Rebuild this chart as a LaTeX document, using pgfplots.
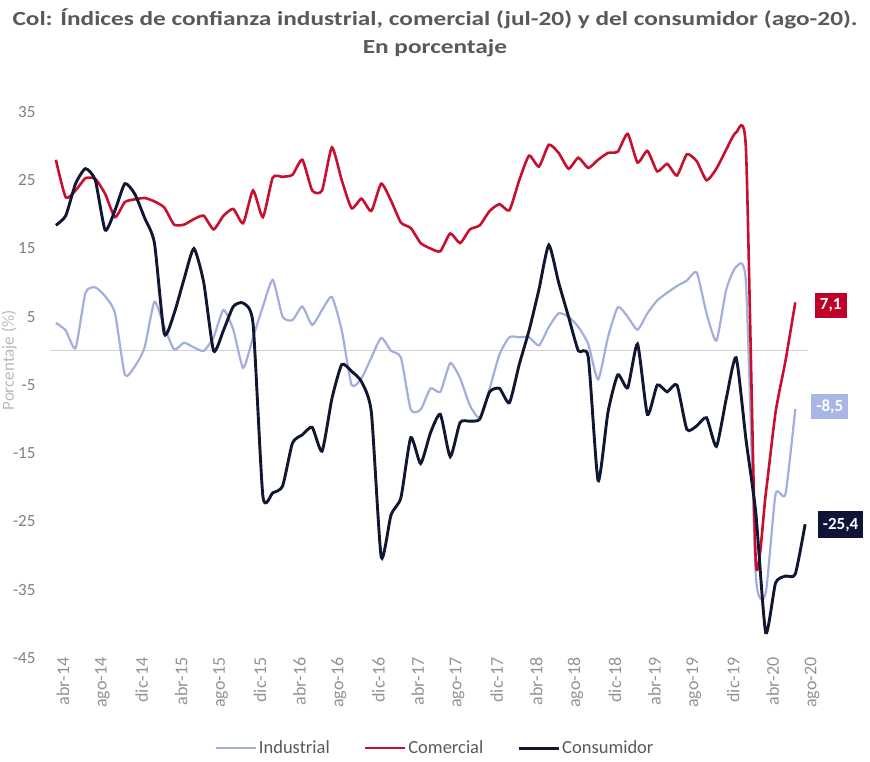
\documentclass[border=0pt]{standalone}
\usepackage{fontspec}
\setmainfont{Carlito}
\usepackage{pgfplots}
\usepackage{pgfplotstable}
\pgfplotsset{compat=1.18}
\definecolor{ind}{HTML}{A3AEDD}
\definecolor{com}{HTML}{C8102E}
\definecolor{con}{HTML}{111633}
\definecolor{indbox}{HTML}{A9B5E3}
\definecolor{combox}{HTML}{C00029}
\definecolor{conbox}{HTML}{101538}
\definecolor{txt}{HTML}{595959}
\definecolor{tickc}{HTML}{808080}

\pgfplotstableread{
i ind com con
0 4.1 28.0 18.4
1 3.0 22.5 19.8
2 0.4 23.5 24.5
3 8.5 25.3 26.7
4 9.3 25.2 25.0
5 8.0 23.0 17.7
6 5.5 19.6 20.6
7 -3.5 21.8 24.5
8 -2.3 22.2 23.0
9 0.5 22.4 19.5
10 7.2 21.9 15.8
11 3.5 21.0 2.5
12 0.2 18.5 5.5
13 1.2 18.5 10.5
14 0.5 19.3 15.0
15 0.0 19.8 10.0
16 2.0 17.8 0.0
17 6.0 19.8 3.0
18 3.1 20.8 6.5
19 -2.5 18.7 7.0
20 2.0 23.5 4.0
21 6.5 19.6 -21.3
22 10.4 25.4 -20.8
23 5.0 25.5 -19.8
24 4.5 25.8 -13.5
25 6.5 28.0 -12.3
26 3.8 23.5 -11.2
27 6.0 23.5 -14.7
28 7.9 29.8 -7.0
29 3.0 25.0 -2.0
30 -5.0 20.9 -3.0
31 -4.0 22.3 -4.5
32 -1.0 20.5 -9.0
33 1.9 24.5 -30.2
34 0.0 22.0 -24.0
35 -1.0 18.8 -21.5
36 -8.6 18.0 -12.7
37 -8.6 15.8 -16.5
38 -5.5 15.0 -12.0
39 -6.0 14.6 -9.3
40 -1.8 17.2 -15.5
41 -4.0 15.8 -10.5
42 -8.0 17.8 -10.3
43 -9.8 18.4 -10.0
44 -5.5 20.5 -6.0
45 -0.5 21.5 -5.5
46 2.0 20.6 -7.6
47 2.0 25.0 -2.0
48 2.0 28.6 3.0
49 0.8 27.0 9.0
50 3.5 30.2 15.5
51 5.5 29.0 10.0
52 5.0 26.7 5.0
53 3.5 28.3 0.0
54 1.0 26.8 -0.9
55 -4.2 28.0 -19.0
56 2.0 29.0 -9.0
57 6.4 29.2 -3.5
58 5.0 31.8 -5.4
59 3.1 27.6 1.0
60 5.5 29.3 -9.3
61 7.4 26.3 -5.0
62 8.5 27.4 -6.0
63 9.5 25.7 -5.0
64 10.3 28.8 -11.5
65 11.5 27.8 -11.0
66 5.5 25.0 -9.8
67 1.5 26.7 -14.0
68 9.0 29.5 -7.0
69 12.3 32.0 -1.0
70 10.0 29.5 -13.0
71 -33.0 -31.0 -23.8
72 -35.5 -21.0 -41.3
73 -21.0 -9.0 -34.0
74 -21.0 -1.5 -33.0
75 -8.5 7.1 -32.7
76 nan nan -25.4
}\data

\begin{document}
\begin{tikzpicture}
\path[use as bounding box] (0,0) rectangle (870pt,761pt);
\node[align=center, font=\fontsize{20}{28}\selectfont\bfseries, text=txt] at (435pt,728pt)
  {\scalebox{1.265}[1]{Col: Índices de confianza industrial, comercial (jul-20) y del consumidor (ago-20).}\\\scalebox{1.265}[1]{En porcentaje}};
\begin{axis}[
  at={(46pt,103pt)}, anchor=south west,
  scale only axis, width=769pt, height=546pt,
  xmin=-1, xmax=77, ymin=-45, ymax=35,
  axis line style={draw=none},
  major tick length=0pt,
  clip=false,
  ytick={-45,-35,...,35},
  yticklabels={-45,-35,-25,-15,-5,5,15,25,35},
  yticklabel style={font=\fontsize{17}{19}\selectfont, text=tickc, xshift=-7pt},
  xtick={0,4,...,76},
  xticklabels={abr-14,ago-14,dic-14,abr-15,ago-15,dic-15,abr-16,ago-16,dic-16,abr-17,ago-17,dic-17,abr-18,ago-18,dic-18,abr-19,ago-19,dic-19,abr-20,ago-20},
  xticklabel style={rotate=90, anchor=east, font=\fontsize{18}{20}\selectfont, text=tickc!85, xshift=4pt, yshift=-7pt},
  ylabel={Porcentaje (\%)},
  every axis y label/.style={at={(axis description cs:-0.048,0.545)}, rotate=90, anchor=center, font=\fontsize{17}{19}\selectfont, text=tickc!55},
  legend columns=3,
  legend style={at={(0.506,-0.165)}, anchor=center, draw=none, fill=none,
    font=\fontsize{18.5}{20}\selectfont, text=txt,
    /tikz/every even column/.append style={column sep=32pt},
    inner sep=0pt},
  legend image code/.code={\draw[#1] (0pt,0pt) -- (40pt,0pt);},
  every axis plot/.append style={smooth, tension=0.35},
]
\addplot[gray!35, line width=0.9pt, sharp plot, forget plot] coordinates {(-0.6,0) (76.3,0)};
\addplot[ind, line width=2.2pt] table[x=i, y=ind] {\data};
\addlegendentry{Industrial}
\addplot[com, line width=2.6pt] table[x=i, y=com] {\data};
\addlegendentry{Comercial}
\addplot[con, line width=2.9pt] table[x=i, y=con] {\data};
\addlegendentry{Consumidor}
\node[fill=combox, text=white, font=\fontsize{17}{19}\selectfont\bfseries, minimum height=25pt, inner xsep=5pt] at (axis cs:78.6,6.7) {7,1};
\node[fill=indbox, text=white, font=\fontsize{17}{19}\selectfont\bfseries, minimum height=25pt, inner xsep=5pt] at (axis cs:78.5,-8.2) {-8,5};
\node[fill=conbox, text=white, font=\fontsize{17}{19}\selectfont\bfseries, minimum height=27pt, inner xsep=5pt] at (axis cs:79.6,-25.5) {-25,4};
\end{axis}
\end{tikzpicture}
\end{document}
